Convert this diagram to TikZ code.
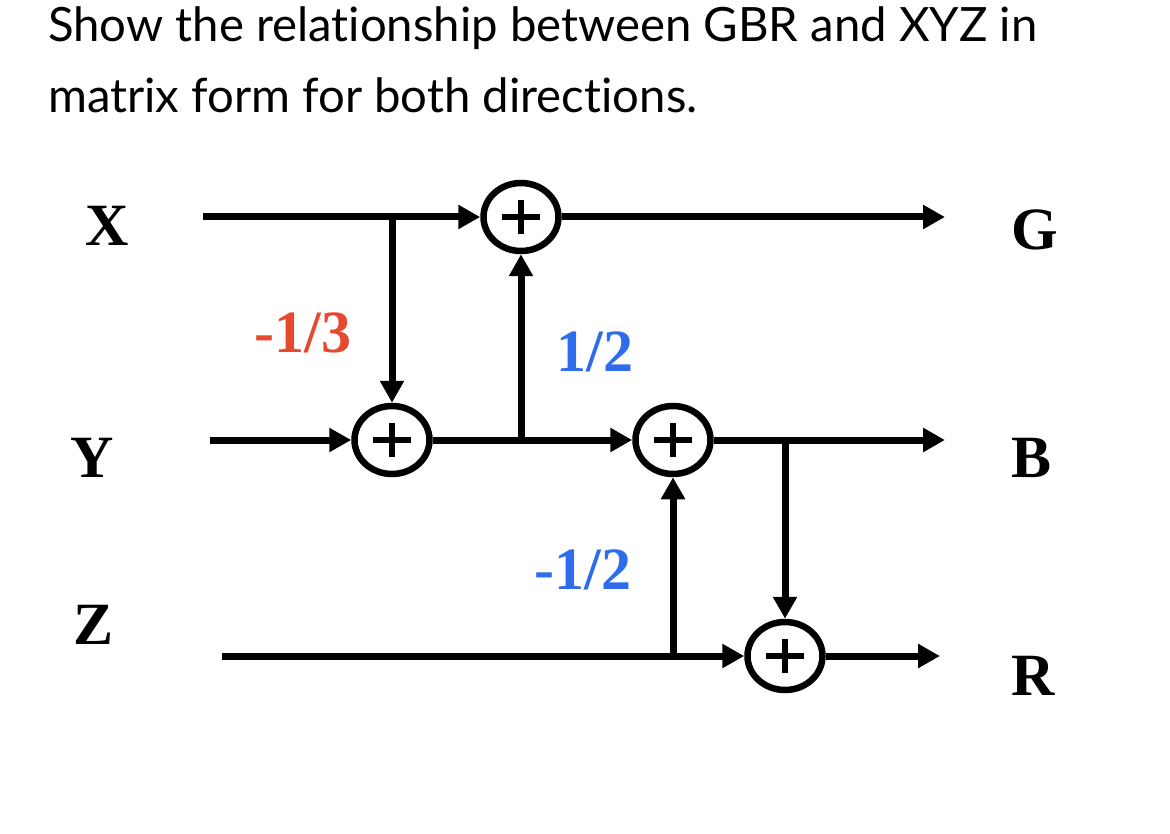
\documentclass[tikz,border=0pt]{standalone}
\usepackage{fontspec}
\setmainfont{Liberation Serif}
\newfontfamily\latofont[Ligatures={NoCommon}]{Lato}
\usetikzlibrary{shapes.geometric,arrows.meta}
\definecolor{myred}{HTML}{E64A2E}
\definecolor{myblue}{HTML}{2F6CEB}
\begin{document}
\begin{tikzpicture}[x=1pt,y=-1pt,
  sig/.style={line width=7pt, -{Triangle[length=22pt,width=23pt]}},
  adder/.style={ellipse, draw, line width=6.5pt, minimum width=75pt, minimum height=68pt, inner sep=0pt,
    path picture={\draw[line width=6.5pt] (path picture bounding box.center) +(-19pt,0pt) -- +(19pt,0pt)
      (path picture bounding box.center) +(0pt,-17pt) -- +(0pt,17pt);}},
  lbl/.style={font=\fontsize{60}{60}\selectfont\bfseries, inner sep=0pt},
  title/.style={anchor=base west, inner sep=0pt, font=\latofont\fontsize{47.3}{73}\selectfont},
]
\useasboundingbox (0,0) rectangle (1170,834);
\fill[white] (0,0) rectangle (1170,834);

\node[title] (t1) at (48,42) {Show the relationship between GBR and XYZ in};
\node[title] (t2) at (48,113) {matrix form for both directions.};

% adders
\node[adder] (a1) at (521,217) {};
\node[adder] (a2) at (392,440) {};
\node[adder] (a3) at (673,440) {};
\node[adder] (a4) at (785,656) {};

% signal labels
\node[lbl] (lx) at (107,226) {X};
\node[lbl] (ly) at (92,458) {Y};
\node[lbl] (lz) at (94,625) {Z};
\node[lbl] (lg) at (1035,230) {G};
\node[lbl] (lb) at (1031,458) {B};
\node[lbl] (lr) at (1033,676) {R};

% gains
\node[lbl, text=myred] (g1) at (303,333) {-1/3};
\node[lbl, text=myblue] (g2) at (595,352) {1/2};
\node[lbl, text=myblue] (g3) at (583,570) {-1/2};

% coordinates
\coordinate (xin) at (203,217);
\coordinate (yin) at (210,440);
\coordinate (zin) at (222,656);
\coordinate (gout) at (945,217);
\coordinate (bout) at (945,440);
\coordinate (rout) at (940,656);
\coordinate (b1) at (392,217);
\coordinate (b2) at (521,440);
\coordinate (b3) at (785,440);
\coordinate (b4) at (673,656);

% connectors
\draw[sig] (xin) -- (a1);
\draw[sig] (b1) -- (a2);
\draw[sig] (a1.east) -- (gout);
\draw[sig] (yin) -- (a2);
\draw[sig] (a2) -- (a3);
\draw[sig] (b2) -- (a1);
\draw[sig] (a3.east) -- (bout);
\draw[sig] (b3) -- (a4);
\draw[sig] (zin) -- (a4);
\draw[sig] (b4) -- (a3);
\draw[sig] (a4.east) -- (rout);
\end{tikzpicture}
\end{document}
